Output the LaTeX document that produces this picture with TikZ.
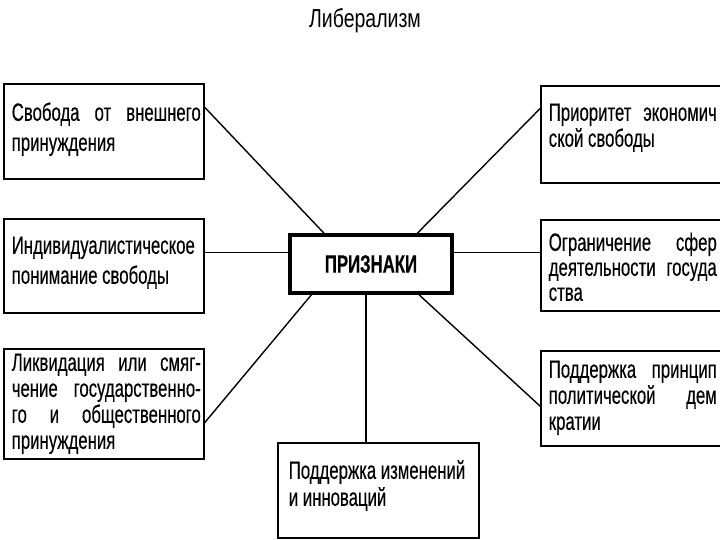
\documentclass[tikz,border=0pt]{standalone}
\usepackage{fontspec}
\setmainfont[FakeStretch=0.67,FakeBold=0.3]{Liberation Sans}
\newfontfamily\titlefont[FakeStretch=0.75]{Liberation Sans}
\usetikzlibrary{calc}
\newcommand{\bxtxt}[6]{\parbox[c][#2][t]{#1}{\leftskip=#6\fontsize{25}{#3}\selectfont\rule{0pt}{#4}#5}}
\newcommand{\jl}[2]{\makebox[#1][s]{#2}}
\tikzset{
  box/.style={draw, line width=1.6pt, rectangle, inner sep=0pt, anchor=north west},
  hub/.style={draw, line width=3.5pt, rectangle, inner sep=0pt, minimum width=162pt, minimum height=58pt, font=\fontsize{25}{28}\selectfont\bfseries},
  link/.style={line width=1.4pt}
}
\begin{document}
\begin{tikzpicture}[x=1pt, y=-1pt]
\useasboundingbox (0,0) rectangle (720,540);
\fill[white] (0,0) rectangle (720,540);
\clip (0,0) rectangle (720,540);

\node[anchor=base, font=\titlefont\fontsize{26}{30}\selectfont] (title) at (365,28) {Либерализм};

\node[hub] (c) at (371,264) {ПРИЗНАКИ};

\node[box] (b1) at (3,83) {\bxtxt{200pt}{95pt}{30pt}{37pt}{\jl{189pt}{Свобода от внешнего}\\принуждения}{8pt}};
\node[box] (b2) at (3,218) {\bxtxt{200pt}{94pt}{30pt}{35pt}{Индивидуалистическое\\понимание свободы}{8pt}};
\node[box] (b3) at (3,348) {\bxtxt{200pt}{110pt}{26pt}{22pt}{\jl{189pt}{Ликвидация или смяг-}\\\jl{189pt}{чение государственно-}\\\jl{189pt}{го и общественного}\\принуждения}{8pt}};

\node[box] (r1) at (540,85) {\bxtxt{200pt}{97pt}{26pt}{35pt}{\jl{168pt}{Приоритет экономич}\\ской свободы}{8pt}};
\node[box] (r2) at (540,219) {\bxtxt{200pt}{91pt}{25pt}{31pt}{\jl{168pt}{Ограничение сфер}\\\jl{168pt}{деятельности госуда}\\ства}{8pt}};
\node[box] (r3) at (540,350) {\bxtxt{200pt}{95pt}{26pt}{27pt}{\jl{168pt}{Поддержка принцип}\\\jl{168pt}{политической дем}\\кратии}{8pt}};

\node[box] (bt) at (277,442) {\bxtxt{201pt}{95pt}{27pt}{36pt}{Поддержка изменений\\и инноваций}{11pt}};

\draw[link] ($(b1.north east)!0.25!(b1.south east)$) -- ($(c.north west)!0.216!(c.north east)$);
\coordinate (p2) at ($(b2.north east)!0.36!(b2.south east)$);
\draw[link] (p2) -- (p2 -| c.west);
\draw[link] ($(b3.north east)!0.67!(b3.south east)$) -- ($(c.south west)!0.14!(c.south east)$);
\draw[link] ($(r1.north west)!0.24!(r1.south west)$) -- ($(c.north west)!0.78!(c.north east)$);
\draw[link] (p2 -| c.east) -- (p2 -| r2.west);
\draw[link] ($(r3.north west)!0.58!(r3.south west)$) -- ($(c.south west)!0.79!(c.south east)$);
\coordinate (p7) at ($(bt.north west)!0.44!(bt.north east)$);
\draw[link] (p7) -- (p7 |- c.south);
\end{tikzpicture}
\end{document}
